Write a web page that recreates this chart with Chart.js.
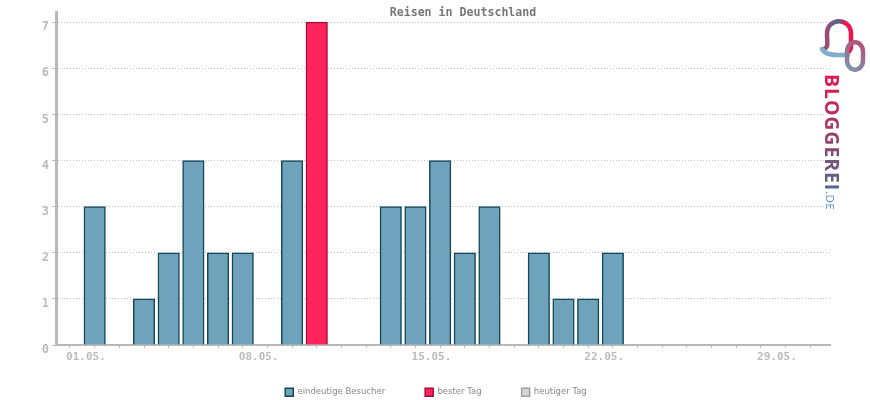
<!DOCTYPE html>
<html>
<head>
<meta charset="utf-8">
<title>Reisen in Deutschland</title>
<script src="https://cdn.jsdelivr.net/npm/chart.js@4"></script>
<style>
html, body { margin: 0; padding: 0; background: #fff; }
#wrap { width: 870px; height: 400px; }
</style>
</head>
<body>
<div id="wrap"><canvas id="chart" width="870" height="400"></canvas></div>
<script>
var chartTitle = 'Reisen in Deutschland';
var days = ['01.05.','02.05.','03.05.','04.05.','05.05.','06.05.','07.05.','08.05.','09.05.','10.05.','11.05.','12.05.','13.05.','14.05.','15.05.','16.05.','17.05.','18.05.','19.05.','20.05.','21.05.','22.05.','23.05.','24.05.','25.05.','26.05.','27.05.','28.05.','29.05.','30.05.','31.05.'];
var visitors = [0,3,0,1,2,4,2,2,0,4,0,0,0,3,3,4,2,3,0,2,1,1,2,0,0,0,0,0,0,0,0];
var bestDay = [0,0,0,0,0,0,0,0,0,0,7,0,0,0,0,0,0,0,0,0,0,0,0,0,0,0,0,0,0,0,0];
var today = [];
var legendNames = ['eindeutige Besucher','bester Tag','heutiger Tag'];
var yTicks = [0,1,2,3,4,5,6,7];
var labelEvery = 7;

function toPoints(values) {
    var out = [];
    values.forEach(function (v, i) {
        if (v > 0) out.push({ x: i, y: v });
    });
    return out;
}

// legend sits much lower than the library would put it
var legendPlugin = {
    id: 'legendSpot',
    afterInit: function (chart) {
        var fit = chart.legend.fit;
        chart.legend.fit = function () {
            fit.call(this);
            this.height = 32;
        };
    },
    afterLayout: function (chart) {
        chart.legend.top = 348;
        chart.legend.left += 21;
        chart.legend.right += 21;
    }
};

// title is off-centre in the original and the logo sits beside the plot
var decorPlugin = {
    id: 'decor',
    afterDraw: function (chart) {
        var ctx = chart.ctx;
        ctx.save();
        ctx.fillStyle = '#777';
        ctx.font = 'bold 11.6px "DejaVu Sans Mono"';
        ctx.textAlign = 'center';
        ctx.textBaseline = 'middle';
        ctx.fillText(chartTitle, 463, 12.5);

        // logo text
        ctx.translate(825, 74);
        ctx.rotate(Math.PI / 2);
        ctx.font = 'bold 19.5px "Open Sans"';
        ctx.letterSpacing = '0.9px';
        ctx.textAlign = 'left';
        ctx.textBaseline = 'alphabetic';
        var t = ctx.createLinearGradient(0, 0, 118, 0);
        t.addColorStop(0, '#e8174f');
        t.addColorStop(0.5, '#a03c6c');
        t.addColorStop(1, '#4f6a92');
        ctx.fillStyle = t;
        ctx.fillText('BLOGGEREI', 0, 0);
        ctx.font = '11.5px "Open Sans"';
        ctx.letterSpacing = '0.5px';
        ctx.fillStyle = '#4f8fb0';
        ctx.fillText('.DE', 117, -1);
        ctx.setTransform(chart.currentDevicePixelRatio, 0, 0, chart.currentDevicePixelRatio, 0, 0);

        // logo loops
        ctx.lineWidth = 4.5;
        ctx.lineCap = 'round';
        var arch = ctx.createLinearGradient(826, 0, 852, 0);
        arch.addColorStop(0, '#a04a70');
        arch.addColorStop(0.45, '#4f6a90');
        arch.addColorStop(0.75, '#f0144f');
        ctx.strokeStyle = arch;
        ctx.beginPath();
        ctx.moveTo(824, 49);
        ctx.bezierCurveTo(829, 47, 827, 42, 827, 34);
        ctx.bezierCurveTo(827, 17, 851, 17, 851, 34);
        ctx.lineTo(851, 46);
        ctx.bezierCurveTo(851, 50, 849, 52, 847, 53);
        ctx.stroke();
        ctx.beginPath();
        ctx.moveTo(822, 49);
        ctx.bezierCurveTo(825, 54, 830, 55, 838, 55);
        ctx.lineTo(848, 55);
        ctx.strokeStyle = '#7fb0c8';
        ctx.stroke();
        var loop = ctx.createLinearGradient(846, 70, 864, 44);
        loop.addColorStop(0, '#7b9ab5');
        loop.addColorStop(1, '#b05078');
        ctx.strokeStyle = loop;
        ctx.beginPath();
        ctx.moveTo(847, 52);
        ctx.bezierCurveTo(847, 39, 863, 39, 863, 52);
        ctx.lineTo(863, 60);
        ctx.bezierCurveTo(863, 73, 847, 73, 847, 60);
        ctx.closePath();
        ctx.stroke();
        ctx.restore();
    }
};

new Chart(document.getElementById('chart'), {
    type: 'bar',
    data: {
        datasets: [
            { label: legendNames[0], data: toPoints(visitors), backgroundColor: '#6fa3bb', borderColor: '#12475a', borderWidth: 1.5, barThickness: 21.5, grouped: false },
            { label: legendNames[1], data: toPoints(bestDay), backgroundColor: '#ff2459', borderColor: '#a8083c', borderWidth: 1.5, barThickness: 21.5, grouped: false },
            { label: legendNames[2], data: today, backgroundColor: '#d6d6d6', borderColor: '#a0a0a0', borderWidth: 1.5, barThickness: 21.5, grouped: false }
        ]
    },
    options: {
        responsive: false,
        animation: false,
        layout: { padding: { left: 0, right: 40, top: 12, bottom: 0 } },
        plugins: {
            title: { display: false },
            tooltip: { enabled: false },
            legend: {
                position: 'bottom',
                labels: {
                    boxWidth: 8,
                    boxHeight: 8,
                    padding: 40,
                    color: '#888',
                    font: { family: '"DejaVu Sans"', size: 8.5 }
                }
            }
        },
        scales: {
            x: {
                type: 'linear',
                offset: false,
                min: -0.567,
                max: 30.8,
                afterBuildTicks: function (axis) {
                    axis.ticks = days.map(function (d, i) { return { value: i }; });
                },
                afterFit: function (axis) { axis.height = 23; },
                grid: { offset: false, drawOnChartArea: false, drawTicks: true, tickLength: 3, color: '#bbb' },
                border: { color: '#b8b8b8', width: 2 },
                ticks: {
                    autoSkip: false,
                    maxRotation: 0,
                    labelOffset: 16,
                    padding: 3,
                    color: '#bbb',
                    font: { family: '"DejaVu Sans Mono"', size: 11, weight: 'bold' },
                    callback: function (value) {
                        return value % labelEvery === 0 ? days[value] : '';
                    }
                }
            },
            y: {
                min: 0,
                max: 7.22,
                afterBuildTicks: function (axis) {
                    axis.ticks = yTicks.map(function (v) { return { value: v }; });
                },
                afterFit: function (axis) { axis.width = 56; },
                grid: { color: '#c0c0c0', tickColor: '#bbb', tickLength: 4, lineWidth: 1 },
                border: { color: '#b8b8b8', width: 3, dash: [1, 2] },
                ticks: {
                    padding: 3,
                    labelOffset: 5,
                    color: '#bbb',
                    font: { family: '"DejaVu Sans Mono"', size: 12, weight: 'bold' }
                }
            }
        }
    },
    plugins: [legendPlugin, decorPlugin]
});
</script>
</body>
</html>
